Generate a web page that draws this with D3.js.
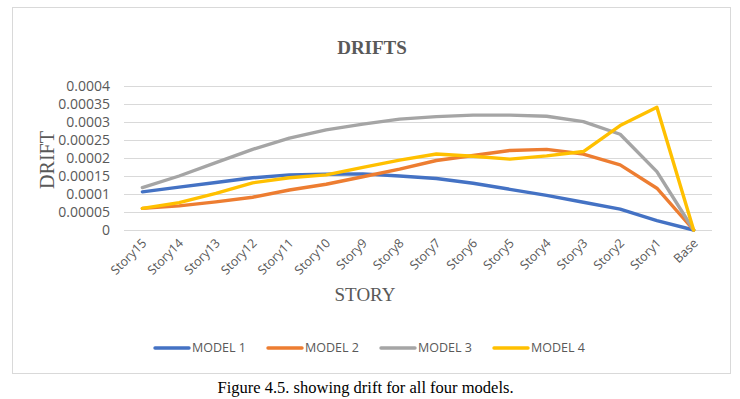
<!DOCTYPE html>
<html>
<head>
<meta charset="utf-8">
<script src="https://cdn.jsdelivr.net/npm/d3@7"></script>
<style>
	body { margin: 0; background: #fff; }
	svg { display: block; }
	.tick line { stroke: #d9d9d9; }
	.tick text { font-family: "Open Sans", sans-serif; font-size: 14px; fill: #595959; }
</style>
</head>
<body>
<div id="chart"></div>
<script>
const stories = ["Story15", "Story14", "Story13", "Story12", "Story11", "Story10", "Story9", "Story8",
	"Story7", "Story6", "Story5", "Story4", "Story3", "Story2", "Story1", "Base"];

const model1 = [0.000106, 0.000119, 0.000132, 0.000145, 0.000153, 0.000155, 0.000156, 0.00015,
	0.000143, 0.00013, 0.000113, 0.000096, 0.000077, 0.000058, 0.000026, 0];
const model2 = [0.00006, 0.000067, 0.000078, 0.000091, 0.000111, 0.000127, 0.000148, 0.000169,
	0.000193, 0.000207, 0.000221, 0.000224, 0.000211, 0.000181, 0.000116, 0];
const model3 = [0.000118, 0.00015, 0.000187, 0.000224, 0.000255, 0.000278, 0.000294, 0.000308,
	0.000315, 0.000319, 0.000319, 0.000316, 0.000301, 0.000266, 0.000162, 0];
const model4 = [0.00006, 0.000076, 0.000102, 0.000131, 0.000145, 0.000153, 0.000174, 0.000194,
	0.000211, 0.000205, 0.000197, 0.000206, 0.000218, 0.00029, 0.000341, 0];

const seriesNames = ["MODEL 1", "MODEL 2", "MODEL 3", "MODEL 4"];
const seriesColors = ["#4472c4", "#ed7d31", "#a5a5a5", "#ffc000"];
const yTicks = [0, 0.00005, 0.0001, 0.00015, 0.0002, 0.00025, 0.0003, 0.00035, 0.0004];

const series = [model1, model2, model3, model4];

const svg = d3.select("#chart")
	.append("svg")
	.attr("width", 740)
	.attr("height", 399);

// chart frame
svg.append("rect")
	.attr("x", 12.5)
	.attr("y", 7.5)
	.attr("width", 718)
	.attr("height", 366)
	.attr("fill", "#fff")
	.attr("stroke", "#d9d9d9");

const x = d3.scalePoint()
	.domain(stories)
	.range([124, 712])
	.padding(0.5);

const y = d3.scaleLinear()
	.domain([0, 0.0004])
	.range([230, 86]);

svg.append("g")
	.attr("transform", "translate(124,0)")
	.call(
		d3.axisLeft(y)
			.tickValues(yTicks)
			.tickSize(-588)
			.tickPadding(14)
			.tickFormat((d) => String(Number(d.toFixed(5))))
	)
	.select(".domain")
	.remove();

// category labels
svg.append("g")
	.selectAll("text")
	.data(stories)
	.enter()
	.append("text")
	.attr("transform", (d) => "translate(" + (x(d) + 5) + ",244) rotate(-45)")
	.attr("text-anchor", "end")
	.style("font-family", "'Open Sans', sans-serif")
	.style("font-size", "12.5px")
	.style("fill", "#595959")
	.text((d) => d);

const line = d3.line()
	.x((d, i) => x(stories[i]))
	.y((d) => y(d));

svg.append("g")
	.selectAll("path")
	.data(series)
	.enter()
	.append("path")
	.attr("d", line)
	.attr("fill", "none")
	.attr("stroke", (d, i) => seriesColors[i])
	.attr("stroke-width", 3.4)
	.attr("stroke-linejoin", "round")
	.attr("stroke-linecap", "round");

// titles
svg.append("text")
	.attr("x", 372)
	.attr("y", 54)
	.attr("text-anchor", "middle")
	.style("font-family", "'Liberation Serif', 'Times New Roman', serif")
	.style("font-weight", "bold")
	.style("font-size", "19px")
	.style("fill", "#595959")
	.text("DRIFTS");

svg.append("text")
	.attr("transform", "translate(54,160) rotate(-90)")
	.attr("text-anchor", "middle")
	.style("font-family", "'Liberation Serif', 'Times New Roman', serif")
	.style("font-size", "20px")
	.style("fill", "#595959")
	.text("DRIFT");

svg.append("text")
	.attr("x", 365)
	.attr("y", 301)
	.attr("text-anchor", "middle")
	.style("font-family", "'Liberation Serif', 'Times New Roman', serif")
	.style("font-size", "19px")
	.style("fill", "#595959")
	.text("STORY");

// legend
const legend = svg.append("g")
	.selectAll("g")
	.data(seriesNames)
	.enter()
	.append("g")
	.attr("transform", (d, i) => "translate(" + (155 + i * 113) + ",348)");

legend.append("line")
	.attr("x1", 0)
	.attr("x2", 34)
	.attr("stroke", (d, i) => seriesColors[i])
	.attr("stroke-width", 3.4)
	.attr("stroke-linecap", "round");

legend.append("text")
	.attr("x", 37)
	.attr("dy", "0.35em")
	.style("font-family", "'Open Sans', sans-serif")
	.style("font-size", "12.5px")
	.style("fill", "#595959")
	.text((d) => d);

// caption
svg.append("text")
	.attr("x", 365.5)
	.attr("y", 393)
	.attr("text-anchor", "middle")
	.style("font-family", "'Liberation Serif', 'Times New Roman', serif")
	.style("font-size", "16.5px")
	.style("fill", "#000")
	.text("Figure 4.5. showing drift for all four models.");
</script>
</body>
</html>
